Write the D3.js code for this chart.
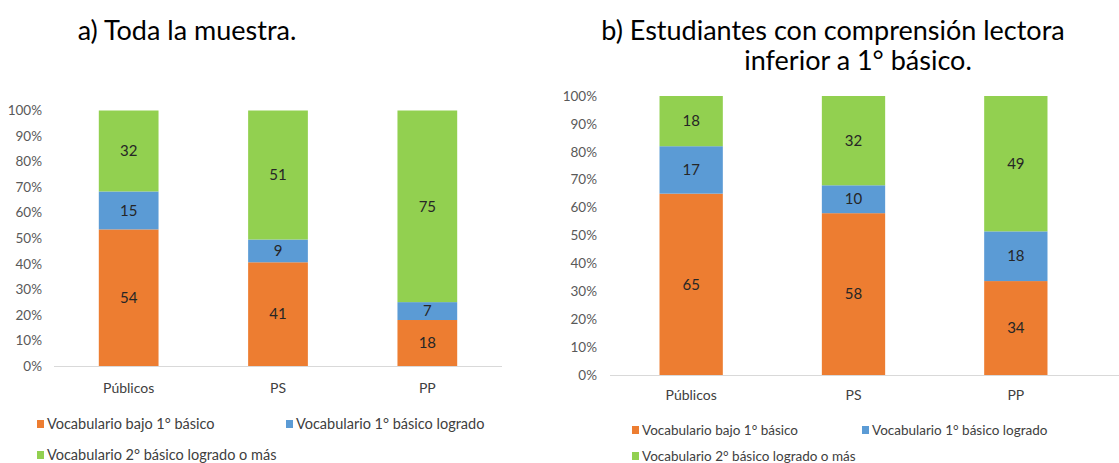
<!DOCTYPE html>
<html lang="es">
<head>
<meta charset="UTF-8">
<title>Vocabulario por dependencia</title>
<script src="https://d3js.org/d3.v7.min.js"></script>
<style>
    body { margin: 0; background: #fff; }
    svg text { font-family: Lato, "Open Sans", sans-serif; }
    .tick-label { font-size: 13.5px; fill: #595959; }
    .cat-label { font-size: 14px; fill: #404040; }
    .seg-label { font-size: 15px; fill: #262626; }
    .legend-text { fill: #404040; }
    .title { font-size: 27px; fill: #000; }
</style>
</head>
<body>
<div id="chart"></div>
<script>
// categories and series
const categories = ["Públicos", "PS", "PP"];
const seriesNames = [
    "Vocabulario bajo 1° básico",
    "Vocabulario 1° básico logrado",
    "Vocabulario 2° básico logrado o más"
];
const seriesColors = ["#ED7D31", "#5B9BD5", "#92D050"];
const yTicks = [0, 0.1, 0.2, 0.3, 0.4, 0.5, 0.6, 0.7, 0.8, 0.9, 1];

// a) Toda la muestra
const muestraBajo = [54, 41, 18];
const muestraLogrado1 = [15, 9, 7];
const muestraLogrado2 = [32, 51, 75];

// b) comprension lectora inferior a 1° basico
const lectoraBajo = [65, 58, 34];
const lectoraLogrado1 = [17, 10, 18];
const lectoraLogrado2 = [18, 32, 49];

const svg = d3.select("#chart").append("svg")
    .attr("width", 1119)
    .attr("height", 463);

function drawPanel(opts) {
    const rows = categories.map((c, i) => ({
        cat: c,
        s0: opts.values[0][i],
        s1: opts.values[1][i],
        s2: opts.values[2][i]
    }));
    const stack = d3.stack()
        .keys(["s0", "s1", "s2"])
        .offset(d3.stackOffsetExpand)(rows);

    const x = d3.scaleBand()
        .domain(categories)
        .range([opts.left, opts.right]);
    const y = d3.scaleLinear()
        .domain([0, 1])
        .range([opts.bottom, opts.top]);
    const barW = x.bandwidth() * opts.barFrac;

    const g = svg.append("g");

    // y tick labels (no axis line, like Excel)
    g.selectAll(".tick-label")
        .data(yTicks)
        .enter().append("text")
        .attr("class", "tick-label")
        .attr("x", opts.left - opts.labelGap)
        .attr("y", d => y(d))
        .attr("dy", "0.35em")
        .attr("text-anchor", "end")
        .text(d => d3.format(".0%")(d));

    // bars
    g.selectAll(".layer")
        .data(stack)
        .enter().append("g")
        .attr("class", "layer")
        .attr("fill", (d, i) => seriesColors[i])
        .selectAll("rect")
        .data(d => d)
        .enter().append("rect")
        .attr("x", d => x(d.data.cat) + (x.bandwidth() - barW) / 2)
        .attr("y", d => y(d[1]))
        .attr("width", barW)
        .attr("height", d => y(d[0]) - y(d[1]));

    // segment value labels
    stack.forEach(layer => {
        g.selectAll(null)
            .data(layer)
            .enter().append("text")
            .attr("class", "seg-label")
            .attr("x", d => x(d.data.cat) + x.bandwidth() / 2)
            .attr("y", d => y((d[0] + d[1]) / 2))
            .attr("dy", "0.35em")
            .attr("text-anchor", "middle")
            .text(d => d.data[layer.key]);
    });

    // category axis
    g.append("line")
        .attr("x1", opts.left).attr("x2", opts.axisEnd)
        .attr("y1", opts.bottom + 0.5).attr("y2", opts.bottom + 0.5)
        .attr("stroke", "#D9D9D9")
        .attr("stroke-width", 1.2);

    g.selectAll(".cat-label")
        .data(categories)
        .enter().append("text")
        .attr("class", "cat-label")
        .attr("x", d => x(d) + x.bandwidth() / 2)
        .attr("y", opts.catY)
        .attr("dy", "0.35em")
        .attr("text-anchor", "middle")
        .text(d => d);

    // legend
    const legendPos = [
        [opts.legX1, opts.legY1],
        [opts.legX2, opts.legY1],
        [opts.legX1, opts.legY2]
    ];
    const legend = g.selectAll(".legend")
        .data(seriesNames)
        .enter().append("g")
        .attr("class", "legend")
        .attr("transform", (d, i) => `translate(${legendPos[i][0]},${legendPos[i][1]})`);
    legend.append("rect")
        .attr("x", 0).attr("y", -4)
        .attr("width", 7).attr("height", 8)
        .attr("fill", (d, i) => seriesColors[i]);
    legend.append("text")
        .attr("class", "legend-text")
        .attr("x", 10)
        .attr("dy", "0.35em")
        .style("font-size", opts.legendSize + "px")
        .text(d => d);

    // title lines
    opts.title.forEach((t, i) => {
        svg.append("text")
            .attr("class", "title")
            .attr("x", opts.titleX[i])
            .attr("y", opts.titleY[i])
            .attr("text-anchor", "middle")
            .text(t);
    });
}

drawPanel({
    values: [muestraBajo, muestraLogrado1, muestraLogrado2],
    left: 54, right: 502, axisEnd: 502,
    top: 110.5, bottom: 366,
    barFrac: 0.40, labelGap: 12,
    catY: 388,
    legX1: 37, legX2: 286, legY1: 424, legY2: 455,
    legendSize: 14.5,
    title: ["a) Toda la muestra."],
    titleX: [187], titleY: [40]
});

drawPanel({
    values: [lectoraBajo, lectoraLogrado1, lectoraLogrado2],
    left: 610, right: 1097, axisEnd: 1119,
    top: 96, bottom: 375,
    barFrac: 0.39, labelGap: 13,
    catY: 395,
    legX1: 632, legX2: 862, legY1: 430, legY2: 456,
    legendSize: 13.5,
    title: ["b) Estudiantes con comprensión lectora", "inferior a 1° básico."],
    titleX: [833, 858], titleY: [40, 70]
});
</script>
</body>
</html>
